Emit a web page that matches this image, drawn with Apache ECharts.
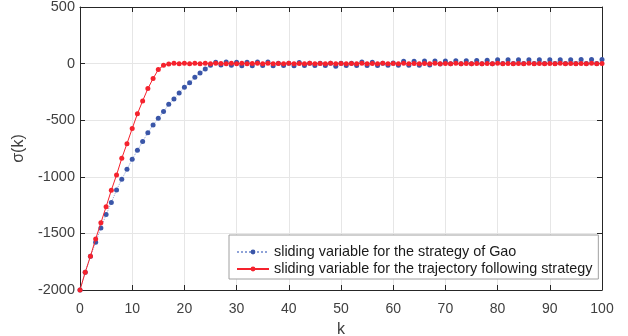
<!DOCTYPE html>
<html>
<head>
<meta charset="utf-8">
<script src="https://cdn.jsdelivr.net/npm/echarts@6/dist/echarts.min.js"></script>
<style>
html, body { margin: 0; padding: 0; background: #fff; }
#main { width: 628px; height: 336px; }
</style>
</head>
<body>
<div id="main"></div>
<script>
// 数据
var kValues = [];
for (var i = 0; i <= 100; i++) kValues.push(i);

var gaoSigma = [
  -2000, -1843, -1702, -1579, -1452, -1334, -1228, -1116, -1022, -934,
  -845, -766, -689, -610, -542, -483, -424, -360, -312, -259,
  -209, -170, -121, -82, -47, -15, 12, -12, 15, -14,
  11, -19, 13, -18, 14, -16, 15, -18, 3, -17,
  2, -18, 10, -17, 2, -16, 3, -17, 2, -24,
  3, -17, 4, -16, 14, -17, 12, -16, 4, -15,
  5, -14, 20, -14, 21, -14, 22, -13, 23, -3,
  24, -2, 25, -2, 26, -2, 27, -1, 29, -1,
  33, 0, 33, 0, 34, 0, 34, 0, 34, 0,
  35, 0, 35, 0, 35, 0, 36, 0, 36, 0,
  37
];

var trajSigma = [
  -2000, -1843, -1702, -1549, -1407, -1265, -1119, -984, -837, -707,
  -574, -444, -330, -221, -132, -53, -15, -3, 2, -1,
  4, -2, 3, -1, 2, -2, 3, 1, -2, 2,
  -1, 2, -2, 1, 2, -1, 2, -2, 1, -1,
  2, -1, 1, -2, 2, -1, 1, -1, 2, -1,
  1, -2, 1, -1, 2, -1, 1, -1, 2, -1,
  1, -1, 2, -1, 1, -2, 1, -1, 2, -1,
  1, -1, 2, -1, 1, -1, 1, -2, 1, -1,
  2, -1, 1, -1, 1, -1, 2, -1, 1, -1,
  1, -1, 2, -1, 1, -1, 1, -1, 2, -1,
  1
];

var xTicks = [0, 10, 20, 30, 40, 50, 60, 70, 80, 90, 100];
var yTicks = [-2000, -1500, -1000, -500, 0, 500];
var seriesNames = ['sliding variable for the strategy of Gao',
                   'sliding variable for the trajectory following strategy'];

function pairs(ys) {
  return ys.map(function (v, i) { return [kValues[i], v]; });
}

var textColor = '#404040';
var axisColor = '#262626';
var font = 'Liberation Sans, Arial, sans-serif';

var myChart = echarts.init(document.getElementById('main'));

var option = {
  animation: false,
  backgroundColor: '#fff',
  textStyle: { fontFamily: font },
  grid: { left: 80, right: 26, top: 7, bottom: 46, outerBoundsMode: 'none', containLabel: false },
  legend: {
    orient: 'vertical',
    left: 229,
    top: 235,
    data: seriesNames,
    backgroundColor: '#fff',
    borderColor: '#a0a0a0',
    borderWidth: 1,
    padding: [10, 6, 3, 7],
    itemGap: 3,
    itemWidth: 32,
    itemHeight: 6,
    textStyle: { color: '#1a1a1a', fontSize: 14.4, fontFamily: font }
  },
  xAxis: [{
    type: 'value',
    min: 0, max: 100, interval: 10,
    name: 'k',
    nameLocation: 'middle',
    nameGap: 32,
    nameTextStyle: { color: textColor, fontSize: 16, fontFamily: font },
    axisLine: { show: true, onZero: false, lineStyle: { color: axisColor, width: 1 } },
    axisTick: { show: true, inside: true, length: 5, lineStyle: { color: axisColor } },
    axisLabel: { color: textColor, fontSize: 14, margin: 12,
      formatter: function (v) { return xTicks.indexOf(v) >= 0 ? String(v) : ''; } },
    splitLine: { show: true, lineStyle: { color: '#e6e6e6', width: 1 } }
  }, {
    type: 'value',
    position: 'top',
    min: 0, max: 100, interval: 10,
    axisLine: { show: true, onZero: false, lineStyle: { color: axisColor, width: 1 } },
    axisTick: { show: true, inside: true, length: 5, lineStyle: { color: axisColor } },
    axisLabel: { show: false },
    splitLine: { show: false }
  }],
  yAxis: [{
    type: 'value',
    min: -2000, max: 500, interval: 500,
    name: 'σ(k)',
    nameLocation: 'middle',
    nameGap: 38,
    nameRotate: 90,
    nameTextStyle: { color: textColor, fontSize: 16, fontFamily: font },
    axisLine: { show: true, onZero: false, lineStyle: { color: axisColor, width: 1 } },
    axisTick: { show: true, inside: true, length: 5, lineStyle: { color: axisColor } },
    axisLabel: { color: textColor, fontSize: 14.5, margin: 5,
      formatter: function (v) { return yTicks.indexOf(v) >= 0 ? String(v) : ''; } },
    splitLine: { show: true, lineStyle: { color: '#e6e6e6', width: 1 } }
  }, {
    type: 'value',
    position: 'right',
    min: -2000, max: 500, interval: 500,
    axisLine: { show: true, onZero: false, lineStyle: { color: axisColor, width: 1 } },
    axisTick: { show: true, inside: true, length: 5, lineStyle: { color: axisColor } },
    axisLabel: { show: false },
    splitLine: { show: false }
  }],
  series: [{
    name: seriesNames[0],
    type: 'line',
    data: pairs(gaoSigma),
    symbol: 'circle',
    symbolSize: 5,
    showAllSymbol: true,
    itemStyle: { color: '#3a56a8' },
    lineStyle: { color: '#8fa3d8', width: 1, type: 'dotted' },
    z: 2
  }, {
    name: seriesNames[1],
    type: 'line',
    data: pairs(trajSigma),
    symbol: 'circle',
    symbolSize: 5,
    showAllSymbol: true,
    itemStyle: { color: '#f5222d' },
    lineStyle: { color: '#f5222d', width: 1 },
    z: 3
  }]
};

myChart.setOption(option);
</script>
</body>
</html>
